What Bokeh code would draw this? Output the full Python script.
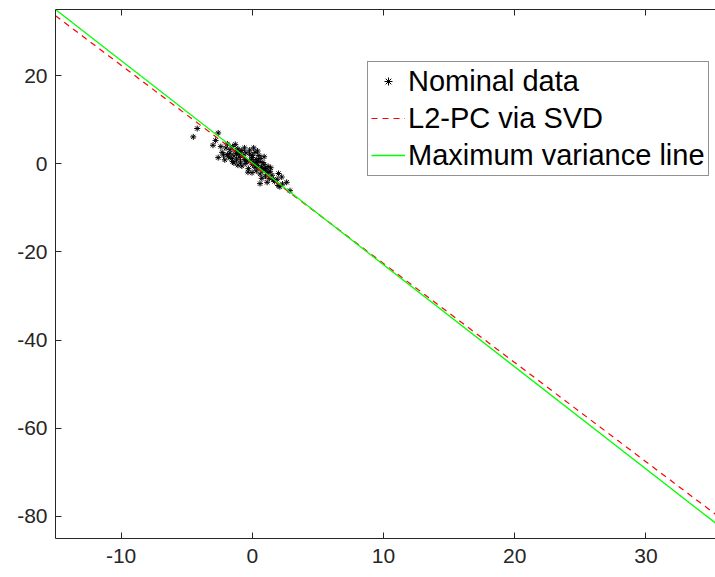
from bokeh.plotting import figure
from bokeh.models import Range1d, LinearAxis, FixedTicker, Legend, LegendItem
from bokeh.embed import file_html
from bokeh.resources import INLINE

# Nominal data
data_x = [-4.2, -4.5, -2.6, -2.8, -2.6, -1.9, -3.0, -2.2, -2.0, -1.7,
          -1.5, -1.3, -1.1, -0.9, -1.6, -1.4, -1.2, -1.0, -0.8, -2.1,
          -1.8, -1.5, -1.2, -0.6, -0.9, -1.3, -1.7, -2.3, -1.0, -0.7,
          -0.4, -0.2, 0.0, 0.2, 0.1, 0.3, 0.5, 0.4, 0.6, 0.8,
          0.7, 0.9, 1.0, 0.2, 0.0, -0.3, -0.1, 0.3, 0.5, 0.6,
          0.8, 1.1, 1.2, 1.0, 1.3, 1.35, 1.13, 2.24, 1.96, 2.62,
          2.87, 0.72, 0.59, -0.33, -0.02, 0.97, 1.2, 1.5, 1.7, 1.9,
          2.1, 2.3, -0.5, -0.2, 0.1, 0.4, -1.4, -1.1, -0.8, -0.5,
          0.9, 1.4, 0.3, -0.6, -1.9, -2.4, 1.6, 2.0, 0.0, 0.6]
data_y = [8.0, 6.1, 7.0, 5.3, 1.4, 4.5, 4.2, 2.0, 3.6, 2.4,
          3.9, 2.9, 3.4, 2.1, 1.2, 1.8, 0.9, 1.5, 3.0, 0.9,
          1.6, 0.5, 2.3, 1.0, 0.4, 4.4, 3.2, 2.6, 2.7, 1.8,
          0.6, 2.2, 1.4, 2.6, 0.2, 1.0, 1.9, -0.4, 1.2, 0.3,
          -0.9, -0.2, -1.2, -0.8, -0.2, -1.1, 0.9, -1.6, 0.5, -2.3,
          -1.5, -2.0, -0.6, -2.8, -3.3, -1.7, -4.2, -3.0, -4.9, -4.2,
          -6.1, -3.3, -4.5, -1.9, -2.0, -1.07, -1.97, -2.6, -4.0, -3.5,
          -5.2, -4.6, 0.1, 3.1, 3.6, 2.9, 0.2, -0.3, -0.5, 2.5,
          1.6, -0.9, 0.4, 3.6, 2.1, 3.9, -3.6, -2.2, 1.9, -1.0]

# Fitted lines (end points at the axis limits)
line_x = [-15.0, 35.3]
svd_y = [33.6, -79.5]
maxvar_y = [35.0, -81.5]

x_ticks = [-10, 0, 10, 20, 30]
y_ticks = [-80, -60, -40, -20, 0, 20]

AX = "#262626"
FONT = "Liberation Sans"

p = figure(width=715, height=577, output_backend="svg", toolbar_location=None,
           x_range=Range1d(-15, 35.3), y_range=Range1d(-85, 35),
           min_border_left=55, min_border_right=0, min_border_top=9,
           min_border_bottom=39, background_fill_color="white",
           border_fill_color="white", outline_line_color=None)
p.grid.visible = False

for ax in (p.xaxis[0], p.yaxis[0]):
    ax.axis_line_color = AX
    ax.major_tick_line_color = AX
    ax.major_tick_in = 6
    ax.major_tick_out = 0
    ax.minor_tick_line_color = None
    ax.major_label_text_font = FONT
    ax.major_label_text_font_size = "21px"
    ax.major_label_text_color = AX
p.xaxis[0].ticker = FixedTicker(ticks=x_ticks)
p.yaxis[0].ticker = FixedTicker(ticks=y_ticks)
p.xaxis[0].major_label_overrides = {t: str(t) for t in x_ticks}
p.yaxis[0].major_label_overrides = {t: str(t) for t in y_ticks}
p.xaxis[0].major_label_standoff = 10
p.yaxis[0].major_label_standoff = 8

top = LinearAxis(ticker=FixedTicker(ticks=x_ticks), axis_line_color=AX,
                 major_tick_line_color=AX, major_tick_in=6, major_tick_out=0,
                 minor_tick_line_color=None, major_label_text_color=None,
                 major_label_text_font_size="1px", major_label_standoff=0)
p.add_layout(top, "above")

r_pts = p.scatter(data_x, data_y, marker="asterisk", size=6, line_color="black",
                  line_width=1)
r_svd = p.line(line_x, svd_y, line_color="#ff0000", line_width=1.2, line_dash="6 5")
r_mv = p.line(line_x, maxvar_y, line_color="#00ff00", line_width=1.3)

legend = Legend(items=[LegendItem(label="Nominal data", renderers=[r_pts]),
                       LegendItem(label="L2-PC via SVD", renderers=[r_svd]),
                       LegendItem(label="Maximum variance line", renderers=[r_mv])],
                location=(312, 362.5), label_text_font=FONT,
                label_text_font_size="29px", label_text_color="black",
                glyph_width=34, label_standoff=3, padding=3, spacing=4,
                border_line_color=AX, border_line_width=1,
                background_fill_color="white", background_fill_alpha=1)
p.add_layout(legend)

open("out.html", "w").write(file_html(p, INLINE))
